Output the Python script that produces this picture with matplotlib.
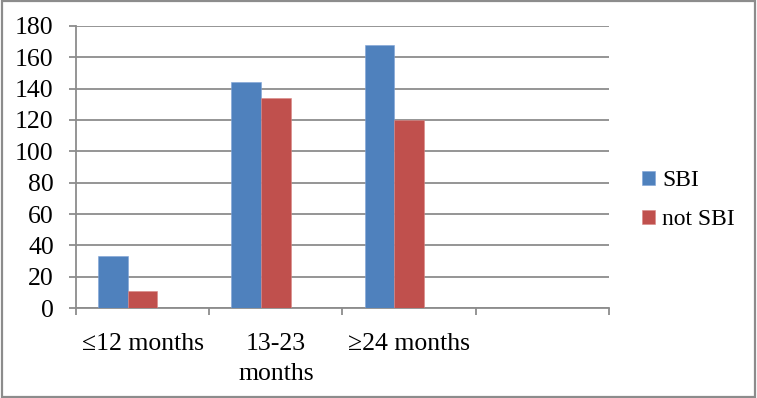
import matplotlib
matplotlib.use("Agg")
import matplotlib.pyplot as plt
import numpy as np
from matplotlib.patches import Rectangle

categories = ["\u226412 months", "13-23\nmonths", "\u226524 months", ""]
sbi = [33, 144, 168]
not_sbi = [11, 134, 120]
series_names = ["SBI", "not SBI"]
colors = ["#4F81BD", "#C0504D"]
yticks = [0, 20, 40, 60, 80, 100, 120, 140, 160, 180]

plt.rcParams['font.family'] = ['Liberation Serif', 'DejaVu Serif']

fig = plt.figure(figsize=(7.57, 3.98), dpi=100)
ax = fig.add_axes([0.1004, 0.2254, 0.704, 0.710])

grid_c = "#8C8C8C"
n_series = 3  # Excel layout with 3 slots per category (third empty)
gap = 1.5
bw = 1.0 / (n_series + gap)
centers = np.arange(len(categories)) + 0.5
x_sbi = centers[:len(sbi)] - bw
x_not = centers[:len(not_sbi)]
ax.bar(x_sbi, sbi, width=bw, color=colors[0], label=series_names[0], zorder=3,
       edgecolor="#7FA3D6", linewidth=0.4)
ax.bar(x_not, not_sbi, width=bw, color=colors[1], label=series_names[1], zorder=3,
       edgecolor="#D98886", linewidth=0.4)

ax.set_xlim(0, len(categories))
ax.set_ylim(0, 180)
ax.set_yticks(yticks)
ax.yaxis.grid(True, color=grid_c, linewidth=1.3, zorder=0)
ax.set_axisbelow(True)

ax.set_xticks(np.arange(len(categories) + 1))
ax.set_xticklabels([])
ax.set_xticks(centers, minor=True)
ax.set_xticklabels(categories, minor=True, fontsize=18.5, linespacing=1.45)
ax.tick_params(axis='x', which='minor', length=0, pad=18)
ax.tick_params(axis='x', which='major', length=5, width=1.3, color=grid_c, direction='out')
ax.tick_params(axis='y', length=5, width=1.3, color=grid_c, direction='out', pad=11, labelsize=18.5)

for s in ["top", "right"]:
    ax.spines[s].set_visible(False)
for s in ["left", "bottom"]:
    ax.spines[s].set_color(grid_c)
    ax.spines[s].set_linewidth(1.3)

leg = fig.legend(loc="center left", bbox_to_anchor=(0.82, 0.497), frameon=False,
                 fontsize=17, handlelength=0.55, handleheight=0.5, handletextpad=0.3,
                 labelspacing=0.76)

fig.patches.append(Rectangle((0.002, 0.003), 0.996, 0.994, transform=fig.transFigure,
                             fill=False, edgecolor="#8C8C8C", linewidth=1.6))

fig.savefig("out.png", dpi=100)
